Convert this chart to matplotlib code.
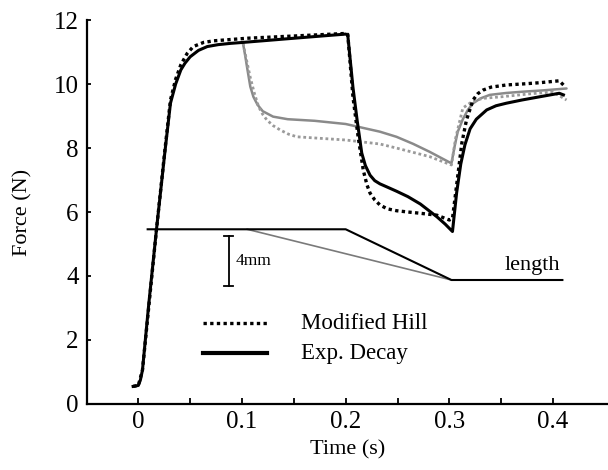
import matplotlib
matplotlib.use("Agg")
import matplotlib.pyplot as plt

plt.rcParams['font.family'] = ['Liberation Serif', 'DejaVu Serif']

# Exp. Decay, fast ramp (black solid)
t_exp = [-0.005, 0.0, 0.002, 0.004, 0.01, 0.0175, 0.0255, 0.031, 0.036, 0.041, 0.045,
         0.05, 0.058, 0.0665, 0.077, 0.089, 0.101, 0.15, 0.2, 0.202, 0.207, 0.211,
         0.2155, 0.219, 0.2235, 0.228, 0.233, 0.24, 0.249, 0.26, 0.272, 0.28, 0.288,
         0.296, 0.303, 0.307, 0.311, 0.315, 0.32, 0.326, 0.336, 0.345, 0.355, 0.37,
         0.387, 0.406, 0.41]
f_exp = [0.55, 0.58, 0.75, 1.06, 3.1, 5.45, 7.84, 9.4, 10.0, 10.44, 10.65,
         10.85, 11.05, 11.17, 11.23, 11.27, 11.3, 11.43, 11.56, 11.53, 9.9, 8.875,
         7.84, 7.45, 7.15, 6.98, 6.88, 6.78, 6.65, 6.48, 6.25, 6.05, 5.85,
         5.62, 5.39, 6.6, 7.5, 8.1, 8.6, 8.9, 9.19, 9.32, 9.4, 9.5,
         9.6, 9.71, 9.66]

# Modified Hill, fast ramp (black dotted)
t_hill = [-0.005, 0.0, 0.004, 0.0175, 0.0255, 0.031, 0.036, 0.041, 0.047, 0.053, 0.063,
          0.073, 0.105, 0.15, 0.2, 0.202, 0.207, 0.212, 0.217, 0.2205, 0.2235, 0.228,
          0.233, 0.24, 0.249, 0.26, 0.272, 0.288, 0.3, 0.303, 0.308, 0.312, 0.3165,
          0.3228, 0.3275, 0.3325, 0.34, 0.355, 0.37, 0.387, 0.406, 0.41]
f_hill = [0.55, 0.58, 1.06, 5.45, 7.9, 9.5, 10.15, 10.6, 10.95, 11.17, 11.3,
          11.35, 11.43, 11.5, 11.58, 11.55, 9.6, 8.35, 7.3, 6.85, 6.59, 6.38,
          6.22, 6.1, 6.04, 6.0, 5.96, 5.9, 5.75, 5.8, 7.1, 8.15, 8.875,
          9.5, 9.7, 9.81, 9.9, 9.97, 10.0, 10.04, 10.1, 9.97]

# Exp. Decay, slow ramp (gray solid)
t_exp_slow = [0.101, 0.103, 0.105, 0.108, 0.111, 0.115, 0.12, 0.13, 0.144, 0.17, 0.2,
              0.233, 0.249, 0.265, 0.281, 0.302, 0.305, 0.308, 0.313, 0.318, 0.323,
              0.33, 0.339, 0.355, 0.371, 0.39, 0.413]
f_exp_slow = [11.27, 10.9, 10.5, 9.92, 9.6, 9.35, 9.15, 8.98, 8.9, 8.85, 8.75,
              8.51, 8.35, 8.13, 7.88, 7.52, 8.04, 8.5, 8.9, 9.2, 9.4,
              9.55, 9.66, 9.72, 9.76, 9.8, 9.86]

# Modified Hill, slow ramp (gray dotted)
t_hill_slow = [0.101, 0.104, 0.108, 0.112, 0.116, 0.12, 0.124, 0.13, 0.137, 0.145, 0.153,
               0.2, 0.233, 0.25, 0.281, 0.302, 0.306, 0.313, 0.322, 0.332, 0.35, 0.38,
               0.40, 0.413]
f_hill_slow = [11.27, 10.8, 10.2, 9.7, 9.29, 9.05, 8.875, 8.7, 8.56, 8.43, 8.35,
               8.25, 8.125, 7.99, 7.73, 7.47, 8.3, 9.25, 9.45, 9.55, 9.6, 9.7,
               9.75, 9.5]

# Length traces (schematic, drawn on force axis)
t_len_fast = [0.009, 0.2, 0.302, 0.409]
y_len_fast = [5.46, 5.46, 3.875, 3.875]
t_len_slow = [0.105, 0.302]
y_len_slow = [5.46, 3.875]

# Scale bar
bar_x = 0.087
bar_y = [3.69, 5.26]

x_ticks = [0, 0.1, 0.2, 0.3, 0.4]
x_tick_labels = ['0', '0.1', '0.2', '0.3', '0.4']
x_minor_ticks = [0.05, 0.15, 0.25, 0.35]
y_ticks = [0, 2, 4, 6, 8, 10, 12]

fig = plt.figure(figsize=(6.08, 4.70), dpi=100)
ax = fig.add_axes([87/608, 66/470, 1 - 87/608, (404-20)/470])

ax.plot(t_exp_slow, f_exp_slow, color='#8a8a8a', lw=1.8, solid_capstyle='round')
ax.plot(t_hill_slow, f_hill_slow, color='#9a9a9a', lw=2.0, linestyle=(0, (1, 1)))
ax.plot(t_exp, f_exp, color='black', lw=2.2)
ax.plot(t_hill, f_hill, color='black', lw=2.4, linestyle=(0, (1, 1)))

ax.plot(t_len_slow, y_len_slow, color='#7a7a7a', lw=1.2)
ax.plot(t_len_fast, y_len_fast, color='black', lw=1.5)

ax.plot([bar_x, bar_x], bar_y, color='black', lw=1.3)
ax.plot([bar_x - 0.004, bar_x + 0.004], [bar_y[0], bar_y[0]], color='black', lw=1.3)
ax.plot([bar_x - 0.004, bar_x + 0.004], [bar_y[1], bar_y[1]], color='black', lw=1.3)
ax.text(bar_x + 0.0065, sum(bar_y) / 2, '4mm', fontsize=12.5, va='center', ha='left')

ax.text(0.353, 4.34, 'length', fontsize=16, va='center', ha='left')

# legend drawn in data coordinates
ax.plot([0.062, 0.1245], [2.53, 2.53], color='black', lw=2.4, linestyle=(0, (1, 1)))
ax.plot([0.062, 0.1245], [1.59, 1.59], color='black', lw=3.0)
ax.text(0.157, 2.53, 'Modified Hill', fontsize=16.5, va='center', ha='left')
ax.text(0.157, 1.59, 'Exp. Decay', fontsize=16.5, va='center', ha='left')

ax.set_xlim(-0.0495, 0.453)
ax.set_ylim(0, 12)
ax.set_xticks(x_ticks)
ax.set_xticklabels(x_tick_labels)
ax.set_xticks(x_minor_ticks, minor=True)
ax.set_yticks(y_ticks)
ax.tick_params(axis='both', which='both', direction='in', labelsize=18, width=1.3)
ax.tick_params(axis='x', which='major', length=4, pad=5)
ax.tick_params(axis='x', which='minor', length=4)
ax.tick_params(axis='y', length=3, pad=6)
for s in ['top', 'right']:
    ax.spines[s].set_visible(False)
for s in ['left', 'bottom']:
    ax.spines[s].set_linewidth(1.6)

ax.set_xlabel('Time (s)', fontsize=16, labelpad=5)
ax.set_ylabel('Force (N)', fontsize=16, labelpad=15)

fig.savefig('out.png', dpi=100)
